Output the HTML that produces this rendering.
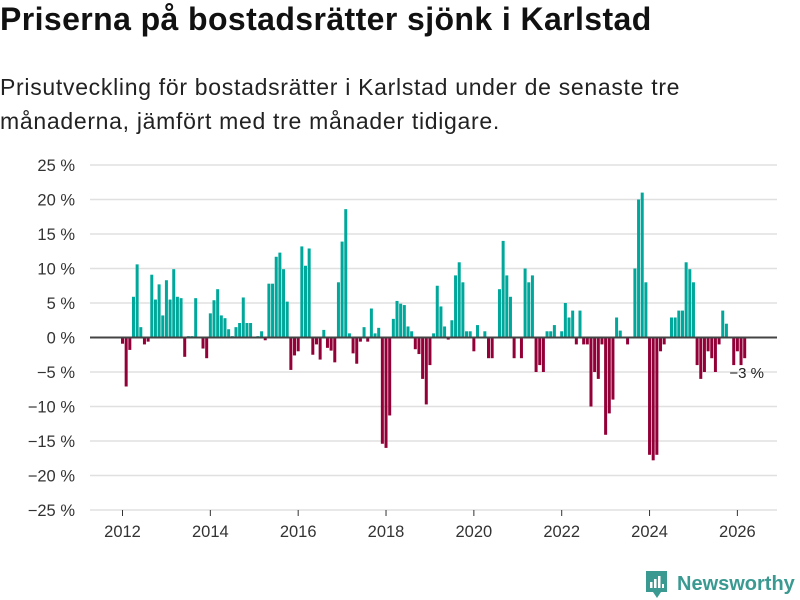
<!DOCTYPE html>
<html><head><meta charset="utf-8"><style>
body{margin:0;background:#fff;font-family:"Liberation Sans",sans-serif;}
#wrap{position:relative;width:800px;height:600px;overflow:hidden;}
h1{position:absolute;left:0;top:1px;margin:0;font-size:32px;letter-spacing:0.4px;font-weight:bold;color:#111;white-space:nowrap;}
p.sub{position:absolute;left:0;top:71px;margin:0;font-size:23px;letter-spacing:0.7px;line-height:33.5px;color:#222;white-space:nowrap;}
</style></head><body>
<div id="wrap">
<h1>Priserna på bostadsrätter sjönk i Karlstad</h1>
<p class="sub">Prisutveckling för bostadsrätter i Karlstad under de senaste tre<br>månaderna, jämfört med tre månader tidigare.</p>
<svg id="chart" width="800" height="600" style="position:absolute;left:0;top:0"></svg>
</div>
<script>
const values = [-0.9,-7.1,-1.8,5.9,10.6,1.5,-1.0,-0.6,9.1,5.5,7.7,3.2,8.3,5.5,9.9,5.9,5.7,-2.8,0.2,0.2,5.7,0,-1.6,-3.0,3.5,5.4,7.0,3.2,2.8,1.2,0.2,1.5,2.1,5.8,2.1,2.1,0,0.2,0.9,-0.4,7.8,7.8,11.7,12.3,9.9,5.2,-4.7,-2.6,-2.0,13.2,10.4,12.9,-2.5,-1.0,-3.2,1.1,-1.5,-1.9,-3.6,8.0,13.9,18.6,0.6,-2.3,-3.8,-0.6,1.5,-0.6,4.2,0.6,1.4,-15.4,-16.0,-11.3,2.7,5.3,4.9,4.7,1.6,0.9,-1.7,-2.4,-6.0,-9.7,-4.0,0.6,7.5,4.5,1.6,-0.3,2.5,9.0,10.9,8.0,0.9,0.9,-2.0,1.8,0,0.9,-3.0,-3.0,0,7.0,14.0,9.0,5.9,-3.0,0,-3.0,10.0,8.0,9.0,-5.0,-4.0,-5.0,0.9,0.9,1.8,0,0.9,5.0,2.9,3.9,-1.0,3.9,-1.0,-1.0,-10.0,-5.0,-6.0,-1.0,-14.1,-11.0,-9.0,2.9,1.0,0,-1.0,0,10.0,20.0,21.0,8.0,-17.0,-17.8,-17.0,-2.0,-1.0,0,2.9,2.9,3.9,3.9,10.9,9.9,8.0,-4.0,-6.0,-5.0,-2.0,-3.0,-5.0,-1.0,3.9,2.0,0,-4.0,-2.0,-4.0,-3.0];
const startYear = 2012;
const yTicks = [25,20,15,10,5,0,-5,-10,-15,-20,-25];
const xTickYears = [2012,2014,2016,2018,2020,2022,2024,2026];
const lastLabel = "−3 %";

const NS="http://www.w3.org/2000/svg";
const svg=document.getElementById('chart');
const y0=165, y1=510, xL=90, xR=777;
function yScale(v){return y0+(25-v)*(y1-y0)/50;}
function xScale(m){return 122.5+m*3.66;}
function mk(t,a){const e=document.createElementNS(NS,t);for(const k in a)e.setAttribute(k,a[k]);svg.appendChild(e);return e;}
yTicks.forEach(v=>{
  const g=mk('line',{x1:xL,x2:xR,y1:yScale(v),y2:yScale(v),stroke:'#e0e0e0','stroke-width':1.5});
  
  
  const t=mk('text',{x:75,y:yScale(v)+6,'text-anchor':'end','font-size':16.5,fill:'#333','font-family':'Liberation Sans, sans-serif'});
  t.textContent=(v<0?'−'+(-v):v)+' %';
  
  
});
xTickYears.forEach(yr=>{
  const x=xScale((yr-startYear)*12);
  const l=mk('line',{x1:x,x2:x,y1:y1,y2:y1+6,stroke:'#333','stroke-width':1});
  
  
  const t=mk('text',{x:x,y:537,'text-anchor':'middle','font-size':16.5,fill:'#333','font-family':'Liberation Sans, sans-serif'});
  t.textContent=yr;
  
  
});
values.forEach((v,i)=>{
  if(v===0)return;
  const x=xScale(i)-1.5, yv=yScale(v), yz=yScale(0);
  const r=mk('rect',{x:x,y:Math.min(yv,yz),width:3,height:Math.abs(yz-yv),fill:v>0?'#00a79b':'#930038'});
  
  
});
const zl=mk('line',{x1:xL,x2:xR,y1:yScale(0),y2:yScale(0),stroke:'#444','stroke-width':2});


const li=values.length-1;
const lt=mk('text',{x:xScale(li)+2,y:yScale(values[li])+20,'text-anchor':'middle','font-size':15,fill:'#222','font-family':'Liberation Sans, sans-serif'});
lt.textContent=lastLabel;


</script>
<svg width="160" height="32" style="position:absolute;left:644px;top:568px">
<path d="M2 3h21v21h-6l-4 6-4-6H2z" fill="#3a9a92"/>
<rect x="6" y="14" width="2.5" height="6" fill="#fff"/><rect x="10" y="11" width="2.5" height="9" fill="#fff"/><rect x="14" y="8" width="2.5" height="12" fill="#fff"/><rect x="18" y="16" width="2" height="4" fill="#fff"/>
<text x="33" y="22" font-size="20" font-weight="bold" fill="#3a9a92" font-family="Liberation Sans, sans-serif">Newsworthy</text>
</svg>
</body></html>
